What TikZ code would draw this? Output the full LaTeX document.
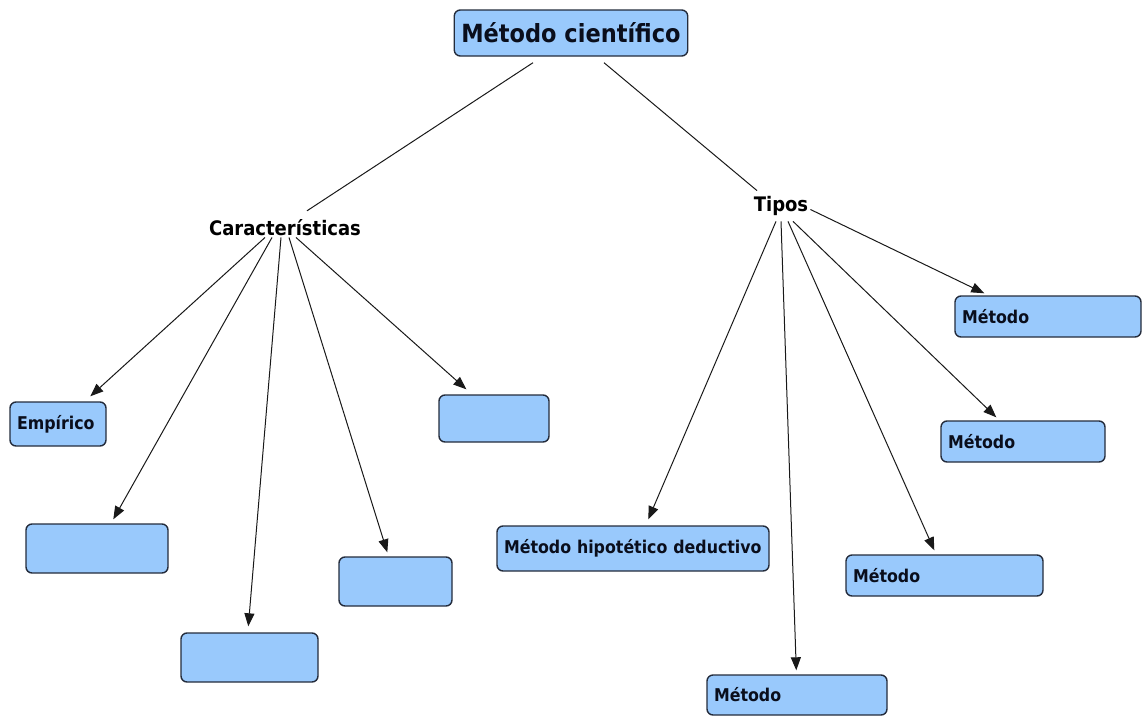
\documentclass[tikz,border=0pt]{standalone}
\usepackage{fontspec}
\setmainfont{DejaVu Sans Condensed}
\usetikzlibrary{arrows.meta,calc}
\definecolor{boxfill}{RGB}{153,201,252}
\definecolor{boxline}{RGB}{36,44,60}
\definecolor{ink}{RGB}{10,14,28}
\begin{document}
\begin{tikzpicture}[x=1pt,y=-1pt,
  concept/.style={draw=boxline, line width=1.4pt, fill=boxfill, rounded corners=6pt, text=ink,
    font=\bfseries\fontsize{17.6}{20}\selectfont, inner xsep=7pt, inner ysep=0pt, align=left},
  heading/.style={font=\bfseries\fontsize{20}{24}\selectfont, inner sep=2pt},
  link/.style={line width=1pt, draw=black!90},
  arrow/.style={link, -{Triangle[length=13pt,width=10pt]}}]
\useasboundingbox (0,0) rectangle (1143,715);

% root concept
\node[concept, font=\bfseries\fontsize{25}{30}\selectfont, align=center,
      minimum width=231pt, minimum height=46pt] (title) at (571,33) {Método científico};

% second level labels
\node[heading, anchor=base] (cara) at (285,235) {Características};
\node[heading, anchor=base] (tipos) at (781,211) {Tipos};

% characteristics
\node[concept, text width=82pt, minimum height=44pt] (emp) at (58,424) {Empírico};
\node[concept, text width=128pt, minimum height=49pt] (c2) at (97,548.5) {};
\node[concept, text width=123pt, minimum height=49pt] (c3) at (249.5,657.5) {};
\node[concept, text width=99pt, minimum height=49pt] (c4) at (395.5,581.5) {};
\node[concept, text width=96pt, minimum height=47pt] (c5) at (494,418.5) {};

% types
\node[concept, text width=258pt, minimum height=45pt] (hd) at (633,548.5) {Método hipotético deductivo};
\node[concept, text width=166pt, minimum height=40pt] (m1) at (797,695) {Método};
\node[concept, text width=183pt, minimum height=41pt] (m2) at (944.5,575.5) {Método};
\node[concept, text width=150pt, minimum height=41pt] (m3) at (1023,441.5) {Método};
\node[concept, text width=172pt, minimum height=41pt] (m4) at (1048,316.5) {Método};

% root links
\draw[link] ($(title.south)+(-38,6)$) -- ($(cara.north)+(22,-6)$);
\draw[link] ($(title.south)+(33,6)$) -- ($(tipos.north)+(-24,-3)$);

% characteristics links
\draw[arrow] ($(cara.south)+(-20,0)$) -- ($(emp.north west)+(81,-5)$);
\draw[arrow] ($(cara.south)+(-13,0)$) -- ($(c2.north west)+(88,-4)$);
\draw[arrow] ($(cara.south)+(-4,0)$) -- ($(c3.north west)+(68,-6)$);
\draw[arrow] ($(cara.south)+(4,0)$) -- ($(c4.north west)+(49,-4)$);
\draw[arrow] ($(cara.south)+(11,0)$) -- ($(c5.north west)+(28,-5)$);

% type links
\draw[arrow] ($(tipos.south)+(-5,4)$) -- ($(hd.north west)+(152,-6)$);
\draw[arrow] ($(tipos.south)+(0,4)$) -- ($(m1.north west)+(90,-4)$);
\draw[arrow] ($(tipos.south)+(7,4)$) -- ($(m2.north west)+(89,-4)$);
\draw[arrow] ($(tipos.south)+(12,4)$) -- ($(m3.north west)+(56,-3)$);
\draw[arrow] ($(tipos.east)+(0,4)$) -- ($(m4.north west)+(30,-2)$);
\end{tikzpicture}
\end{document}
